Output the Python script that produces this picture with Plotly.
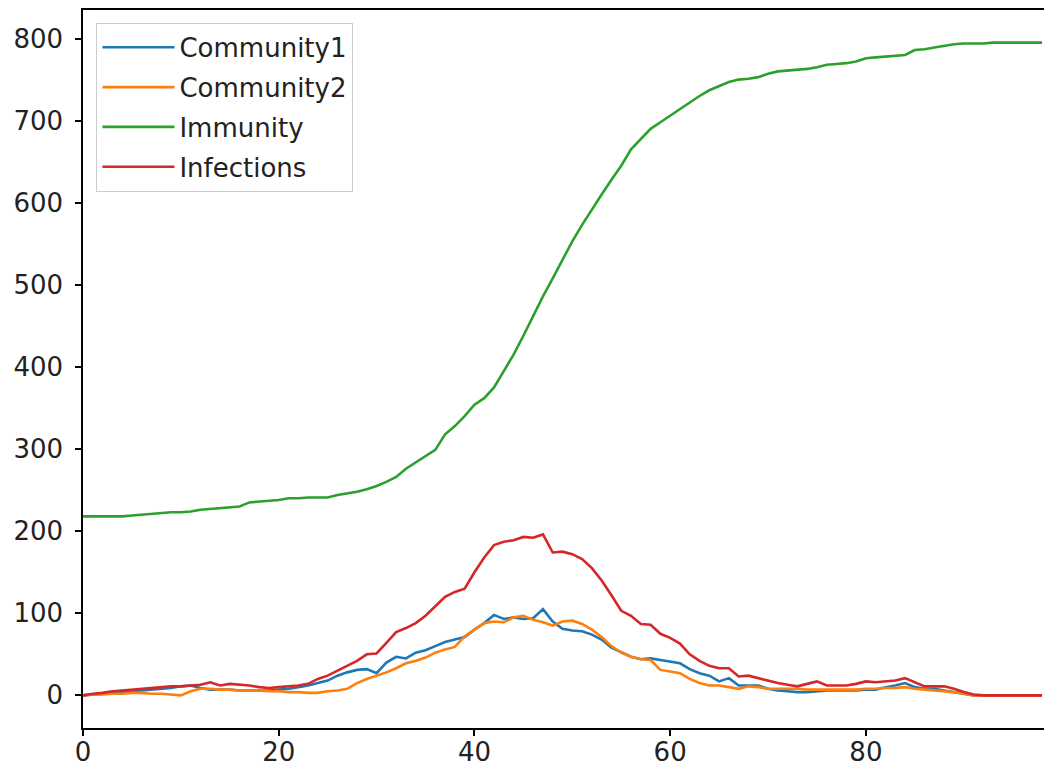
import plotly.graph_objects as go

steps = list(range(99))

community1 = [0,1,2,3,4,5,6,7,8,9,11,12,9,7,7,7,6,6,6,6,7,8,10,12,15,18,
              24,28,31,32,27,40,47,45,52,55,60,65,68,71,80,88,98,93,95,93,94,105,90,81,79,78,74,68,58,52,47,44,45,43,41,39,32,27,24,17,21,12,12,12,8,6,5,4,4,5,
              6,6,6,6,7,7,10,12,15,10,8,8,6,4,2,0,0,0,0,0,0,0,
              0]

community2 = [0,1,1,2,2,3,3,2,2,1,0,5,8,8,7,7,6,6,6,5,5,4,4,3,3,5,
              6,8,15,20,24,28,33,39,42,46,52,56,59,72,80,88,90,89,95,97,92,89,85,90,91,87,80,71,60,52,47,44,43,31,29,27,20,15,12,12,10,8,11,10,8,8,8,8,7,7,
              7,7,7,7,8,8,9,9,10,8,7,6,5,4,2,0,0,0,0,0,0,0,
              0]

immunity = [218,218,218,218,218,219,220,221,222,223,223,224,226,227,228,229,230,235,236,237,238,240,240,241,241,241,
            244,246,248,251,255,260,266,276,284,292,299,318,328,340,354,362,375,395,415,438,462,486,508,530,553,573,592,610,628,645,665,678,690,698,706,715,723,730,737,742,747,750,751,753,757,760,761,762,763,765,
            768,769,770,772,776,777,778,779,780,786,787,789,791,793,794,794,794,795,795,795,795,795,
            795]

infections = [0,2,3,5,6,7,8,9,10,11,11,12,13,16,12,14,13,12,10,9,10,11,12,14,20,24,
              30,35,42,50,51,64,77,82,88,97,108,120,126,130,150,168,183,187,189,193,192,196,174,175,172,166,155,140,122,103,97,87,86,75,70,63,50,42,36,33,33,23,24,21,18,15,13,11,14,17,
              12,12,12,14,17,16,17,18,21,16,11,11,11,8,4,1,0,0,0,0,0,0,
              0]

series = [
    ("Community1", community1, "#1f77b4"),
    ("Community2", community2, "#ff7f0e"),
    ("Immunity", immunity, "#2ca02c"),
    ("Infections", infections, "#d62728"),
]

x_ticks = [0, 20, 40, 60, 80]
y_ticks = [0, 100, 200, 300, 400, 500, 600, 700, 800]

fig = go.Figure()
for name, vals, color in series:
    fig.add_trace(go.Scatter(
        x=steps, y=vals, mode="lines", name=name, legendgroup=name,
        line=dict(color=color, width=2.6),
    ))

axis_common = dict(
    showline=True, linecolor="black", linewidth=1.5, mirror=True,
    ticks="outside", ticklen=6, tickwidth=1.5, tickcolor="black",
    showgrid=False, zeroline=False, automargin=False,
    tickfont=dict(family="DejaVu Sans", size=26, color="#222222"),
)

fig.update_layout(
    width=1044, height=773,
    margin=dict(l=83, r=0, t=10, b=45),
    paper_bgcolor="white", plot_bgcolor="white",
    showlegend=True,
    legend=dict(
        x=0.014, y=0.982, xanchor="left", yanchor="top",
        bgcolor="rgba(255,255,255,0.8)", bordercolor="#cccccc", borderwidth=1,
        font=dict(family="DejaVu Sans", size=26, color="#222222"),
        itemwidth=72, tracegroupgap=3,
    ),
    xaxis=dict(range=[0, 98.2], tickvals=x_ticks, ticklabelstandoff=-6, **axis_common),
    yaxis=dict(range=[-39.75, 834.75], tickvals=y_ticks, ticklabelstandoff=7, **axis_common),
)

fig.write_html(
    "out.html",
    config={"displayModeBar": False},
    post_script="document.body.style.margin='0';document.body.style.overflow='hidden';",
)
